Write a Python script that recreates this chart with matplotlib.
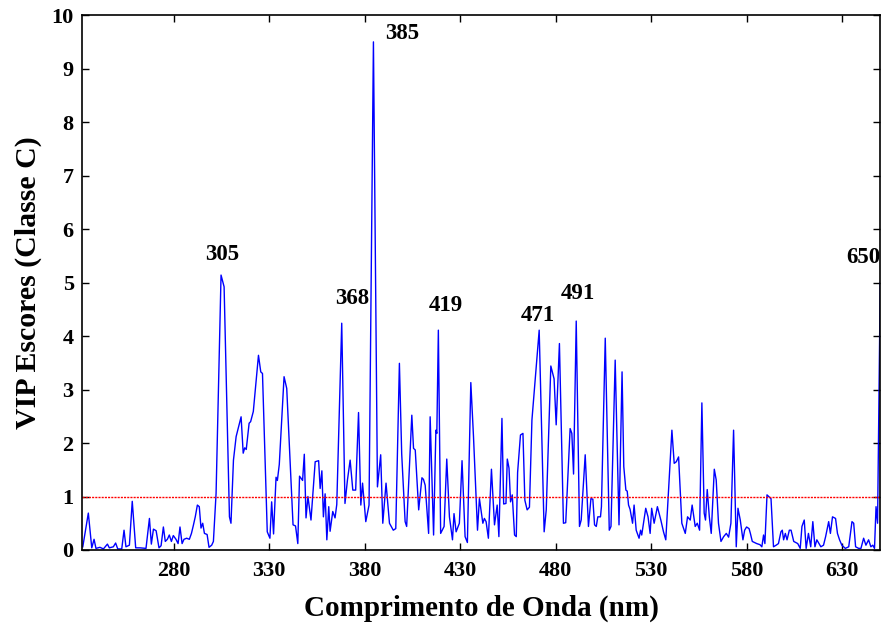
import numpy as np
import matplotlib.pyplot as plt

# VIP scores (class C), vertices of the polyline
wavelength = [
    232.4, 235.3, 237.1, 238.3, 239.3, 241.4, 243.2, 245.3, 246.3, 248.4,
    249.6, 250.7, 252.8, 254.0, 255.0, 256.8, 258.3, 260.1, 262.4, 265.5,
    267.3, 268.3, 269.4, 270.8, 272.3, 273.4, 274.6, 275.6, 276.7, 277.7,
    278.8, 279.8, 281.2, 282.3, 283.3, 284.4, 285.4, 286.8, 288.2, 289.3,
    290.3, 291.3, 292.4, 293.4, 294.3, 295.2, 296.1, 297.5, 298.5, 299.9,
    300.8, 302.2, 304.8, 306.4, 309.2, 310.0, 311.3, 312.7, 315.3, 316.4,
    317.2, 318.0, 319.5, 320.3, 321.7, 324.4, 325.6, 326.5, 328.4, 329.0,
    330.4, 331.3, 332.3, 333.6, 334.3, 335.3, 337.8, 339.2, 342.5, 343.8,
    345.0, 345.9, 347.5, 348.4, 349.3, 350.3, 351.9, 354.1, 355.9, 356.7,
    357.6, 358.4, 359.3, 360.2, 361.2, 361.9, 363.3, 364.5, 365.4, 368.0,
    369.7, 371.0, 372.4, 373.8, 375.3, 376.8, 378.0, 378.9, 380.6, 382.3,
    384.6, 386.7, 388.4, 389.5, 391.2, 393.0, 395.0, 396.3, 398.2, 399.4,
    401.2, 402.0, 404.7, 405.6, 406.5, 408.3, 410.0, 410.8, 411.7, 413.5,
    414.3, 416.1, 417.3, 417.8, 418.6, 419.8, 421.6, 423.0, 424.4, 426.0,
    426.8, 427.9, 429.6, 431.0, 432.6, 433.8, 435.6, 437.0, 439.1, 440.1,
    441.9, 442.7, 443.6, 444.8, 446.4, 448.0, 449.4, 450.3, 451.9, 452.8,
    454.0, 454.7, 455.6, 456.4, 457.3, 458.5, 459.4, 460.1, 461.6, 462.9,
    463.9, 465.1, 466.3, 467.6, 471.4, 474.0, 475.1, 477.5, 479.2, 480.3,
    482.0, 484.1, 485.3, 487.6, 488.5, 489.4, 490.8, 492.5, 493.4, 495.5,
    497.2, 498.5, 499.5, 500.4, 501.3, 502.1, 503.5, 504.0, 506.0, 508.1,
    509.0, 511.2, 513.2, 514.8, 515.7, 516.8, 517.5, 518.2, 519.0, 520.3,
    521.1, 522.2, 523.7, 524.5, 525.1, 527.2, 528.4, 529.5, 530.3, 531.6,
    533.3, 535.1, 536.5, 537.7, 540.9, 542.1, 543.2, 544.4, 546.1, 547.9,
    549.1, 550.5, 551.5, 553.1, 554.2, 555.4, 556.6, 557.8, 558.5, 559.4,
    560.5, 561.5, 563.1, 564.1, 565.3, 566.6, 568.0, 569.4, 570.6, 571.8,
    573.2, 574.6, 575.5, 576.7, 578.1, 579.0, 580.0, 581.3, 582.0, 583.0,
    585.3, 587.0, 588.0, 588.9, 589.6, 590.7, 592.8, 594.1, 595.5, 596.7,
    598.0, 598.7, 599.4, 600.3, 601.2, 602.4, 603.3, 604.7, 606.8, 608.1,
    609.0, 610.2, 611.2, 612.4, 613.6, 614.7, 615.8, 616.8, 617.9, 618.9,
    620.3, 621.4, 623.0, 623.9, 625.0, 626.6, 627.6, 628.7, 629.9, 631.7,
    633.5, 635.2, 636.1, 637.1, 638.7, 639.9, 641.3, 642.5, 643.9, 645.1,
    646.1, 647.0, 647.8, 648.6, 650.0,
]
vip = [
    0.06, 0.69, 0.04, 0.20, 0.03, 0.05, 0.02, 0.11, 0.04, 0.06,
    0.13, 0.02, 0.02, 0.37, 0.06, 0.09, 0.91, 0.04, 0.04, 0.03,
    0.59, 0.11, 0.39, 0.36, 0.04, 0.08, 0.43, 0.16, 0.20, 0.28,
    0.16, 0.27, 0.20, 0.12, 0.43, 0.12, 0.20, 0.22, 0.20, 0.31,
    0.46, 0.62, 0.84, 0.81, 0.41, 0.50, 0.31, 0.29, 0.05, 0.09,
    0.16, 1.06, 5.14, 4.92, 0.62, 0.50, 1.68, 2.12, 2.49, 1.81,
    1.91, 1.88, 2.37, 2.40, 2.59, 3.64, 3.33, 3.30, 1.00, 0.34,
    0.22, 0.90, 0.30, 1.36, 1.30, 1.60, 3.24, 3.02, 0.47, 0.45,
    0.12, 1.38, 1.30, 1.79, 0.60, 1.00, 0.56, 1.65, 1.67, 1.15,
    1.48, 0.62, 1.05, 0.19, 0.81, 0.35, 0.72, 0.60, 0.85, 4.24,
    0.87, 1.31, 1.68, 1.12, 1.12, 2.57, 0.84, 1.25, 0.53, 0.84,
    9.50, 1.18, 1.78, 0.50, 1.25, 0.50, 0.37, 0.40, 3.49, 1.80,
    0.53, 0.44, 2.52, 1.90, 1.87, 0.75, 1.35, 1.32, 1.21, 0.31,
    2.49, 0.28, 2.24, 2.18, 4.11, 0.31, 0.44, 1.70, 0.62, 0.19,
    0.68, 0.34, 0.50, 1.67, 0.25, 0.14, 3.13, 2.12, 0.37, 0.96,
    0.50, 0.59, 0.53, 0.22, 1.51, 0.47, 0.84, 0.25, 2.46, 0.86,
    0.87, 1.70, 1.53, 0.90, 1.03, 0.28, 0.25, 1.45, 2.15, 2.18,
    0.93, 0.75, 0.80, 2.43, 4.11, 0.34, 0.75, 3.44, 3.20, 2.34,
    3.86, 0.50, 0.51, 2.27, 2.18, 1.42, 4.28, 0.44, 0.56, 1.78,
    0.44, 0.96, 0.95, 0.47, 0.44, 0.62, 0.62, 0.81, 3.96, 0.37,
    0.44, 3.55, 0.47, 3.33, 1.56, 1.12, 1.10, 0.84, 0.76, 0.50,
    0.84, 0.37, 0.22, 0.37, 0.28, 0.78, 0.62, 0.31, 0.78, 0.50,
    0.81, 0.56, 0.34, 0.19, 2.24, 1.62, 1.65, 1.74, 0.50, 0.31,
    0.62, 0.56, 0.84, 0.44, 0.50, 0.37, 2.75, 0.69, 0.56, 1.13,
    0.62, 0.31, 1.51, 1.31, 0.50, 0.16, 0.25, 0.31, 0.24, 0.50,
    2.24, 0.06, 0.78, 0.56, 0.19, 0.37, 0.43, 0.40, 0.31, 0.16,
    0.12, 0.10, 0.06, 0.28, 0.12, 1.03, 0.96, 0.06, 0.09, 0.12,
    0.34, 0.37, 0.19, 0.31, 0.19, 0.37, 0.37, 0.16, 0.12, 0.03,
    0.44, 0.56, 0.03, 0.31, 0.06, 0.53, 0.06, 0.19, 0.12, 0.06,
    0.09, 0.25, 0.53, 0.31, 0.62, 0.59, 0.31, 0.19, 0.09, 0.03,
    0.06, 0.53, 0.50, 0.06, 0.03, 0.03, 0.22, 0.09, 0.19, 0.06,
    0.09, 0.03, 0.81, 0.50, 5.00,
]

threshold = 1.0

# peak labels: text, x, y
peak_labels = ['305', '368', '385', '419', '471', '491', '650']
peak_x = [305.3, 373.7, 399.6, 422.6, 470.6, 491.8, 641.0]
peak_y = [5.53, 4.70, 9.65, 4.58, 4.39, 4.79, 5.46]

xticks = [280, 330, 380, 430, 480, 530, 580, 630]
yticks = list(range(0, 11))

plt.rcParams['font.family'] = ['Liberation Serif', 'DejaVu Serif']
plt.rcParams['font.weight'] = 'bold'

fig = plt.figure(figsize=(8.82, 6.30), dpi=100)
ax = fig.add_axes([0.093, 0.127, 0.905, 0.849])

ax.plot(wavelength, vip, color='#0000ff', linewidth=1.0)
ax.axhline(threshold, color='#ff0000', linewidth=1.0, linestyle=(0, (1.5, 0.8)))

for txt, x, y in zip(peak_labels, peak_x, peak_y):
    ax.text(x, y, txt, ha='center', va='center', fontsize=16.5, fontweight='bold')

ax.set_xlim(232, 650)
ax.set_ylim(0, 10)
ax.set_xticks(xticks)
ax.set_yticks(yticks)
ax.tick_params(direction='in', top=True, right=True, length=5, width=1,
               labelsize=16)
ax.tick_params(axis='x', pad=8)
ax.tick_params(axis='y', pad=6)
for lab in ax.get_xticklabels() + ax.get_yticklabels():
    lab.set_fontweight('bold')
for sp in ax.spines.values():
    sp.set_linewidth(1.2)

ax.set_xlabel('Comprimento de Onda (nm)', fontsize=21, fontweight='bold', labelpad=10)
ax.set_ylabel('VIP Escores (Classe C)', fontsize=21.5, fontweight='bold', labelpad=7)

fig.savefig('out.png', dpi=100)
